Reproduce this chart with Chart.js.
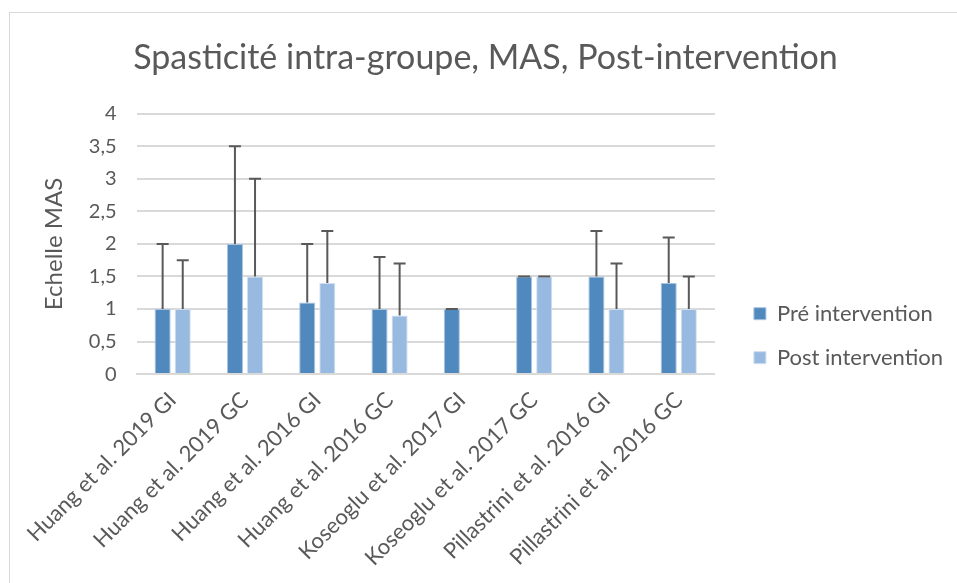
<!DOCTYPE html>
<html>
<head>
<meta charset="utf-8">
<script src="https://cdn.jsdelivr.net/npm/chart.js@4"></script>
<style>
  body { margin: 0; background: #fff; }
  #frame { position: absolute; left: 9px; top: 12px; width: 952px; height: 580px; border: 1px solid #d9d9d9; box-sizing: border-box; }
  canvas { position: absolute; left: 0; top: 0; }
</style>
</head>
<body>
<div id="frame"><canvas id="masChart"></canvas></div>
<script>
const categories = [
  "Huang et al. 2019 GI", "Huang et al. 2019 GC", "Huang et al. 2016 GI", "Huang et al. 2016 GC",
  "Koseoglu et al. 2017 GI", "Koseoglu et al. 2017 GC", "Pillastrini et al. 2016 GI", "Pillastrini et al. 2016 GC"
];
const preValues = [1, 2, 1.1, 1, 1, 1.5, 1.5, 1.4];
const postValues = [1, 1.5, 1.4, 0.9, 0, 1.5, 1, 1];
// top of the (upper-only) error bars
const preHigh = [2, 3.5, 2, 1.8, 1, 1.5, 2.2, 2.1];
const postHigh = [1.75, 3, 2.2, 1.7, null, 1.5, 1.7, 1.5];
const yTicks = [0, 0.5, 1, 1.5, 2, 2.5, 3, 3.5, 4];

const errorBars = {
  id: "errorBars",
  afterDatasetsDraw(chart) {
    const ctx = chart.ctx;
    const yScale = chart.scales.y;
    [preHigh, postHigh].forEach(function (highs, di) {
      const meta = chart.getDatasetMeta(di);
      meta.data.forEach(function (bar, i) {
        if (highs[i] == null) return;
        const yTop = yScale.getPixelForValue(highs[i]);
        ctx.save();
        ctx.strokeStyle = "#595959";
        ctx.lineWidth = 2;
        ctx.beginPath();
        ctx.moveTo(bar.x, bar.y);
        ctx.lineTo(bar.x, yTop);
        ctx.moveTo(bar.x - 6, yTop);
        ctx.lineTo(bar.x + 6, yTop);
        ctx.stroke();
        ctx.restore();
      });
    });
  }
};

Chart.defaults.font.family = "Lato, 'Open Sans', sans-serif";
Chart.defaults.color = "#595959";

const ctx = document.getElementById("masChart").getContext("2d");
const masChart = new Chart(ctx, {
  type: "bar",
  data: {
    labels: categories,
    datasets: [
      {
        label: "Pré intervention",
        data: preValues,
        backgroundColor: "#4f89bd",
        borderColor: "#a9c4e0",
        borderWidth: 1,
        barPercentage: 0.8,
        categoryPercentage: 0.556,
      },
      {
        label: "Post intervention",
        data: postValues,
        backgroundColor: "#98b9e0",
        borderColor: "#cfdff1",
        borderWidth: 1,
        barPercentage: 0.8,
        categoryPercentage: 0.556,
      },
    ],
  },
  options: {
    responsive: true,
    maintainAspectRatio: false,
    animation: false,
    layout: { padding: { left: 8, right: 7, top: 8, bottom: 15 } },
    plugins: {
      title: {
        display: true,
        text: "Spasticité intra-groupe, MAS, Post-intervention",
        font: { size: 34, weight: "normal" },
        color: "#595959",
        padding: { top: 17, bottom: 35 },
      },
      legend: {
        position: "right",
        maxWidth: 300,
        title: { display: true, text: " ", padding: { top: 60 } },
        labels: {
          boxWidth: 12,
          boxHeight: 12,
          padding: 22,
          font: { size: 22 },
          color: "#595959",
        },
      },
      tooltip: { enabled: false },
    },
    scales: {
      x: {
        grid: { display: false },
        border: { color: "#d9d9d9", width: 2 },
        ticks: {
          minRotation: 45,
          maxRotation: 45,
          padding: 5,
          font: { size: 22 },
          color: "#595959",
        },
      },
      y: {
        min: 0,
        max: 4,
        afterBuildTicks: function (axis) {
          axis.ticks = yTicks.map(function (v) { return { value: v }; });
        },
        grid: { color: "#d9d9d9", lineWidth: 2, drawTicks: false },
        border: { display: false },
        ticks: {
          padding: 20,
          font: { size: 20 },
          color: "#595959",
          callback: function (v) { return String(v).replace(".", ","); },
        },
        title: {
          display: true,
          text: "Echelle MAS",
          font: { size: 24 },
          color: "#595959",
          padding: { top: 22, bottom: 0 },
        },
      },
      // empty right-hand spacer between plot and legend
      spacer: {
        position: "right",
        display: true,
        grid: { display: false },
        border: { display: false },
        ticks: { display: false },
        afterFit: function (axis) { axis.width = 17; },
      },
    },
  },
  plugins: [errorBars],
});
</script>
</body>
</html>
